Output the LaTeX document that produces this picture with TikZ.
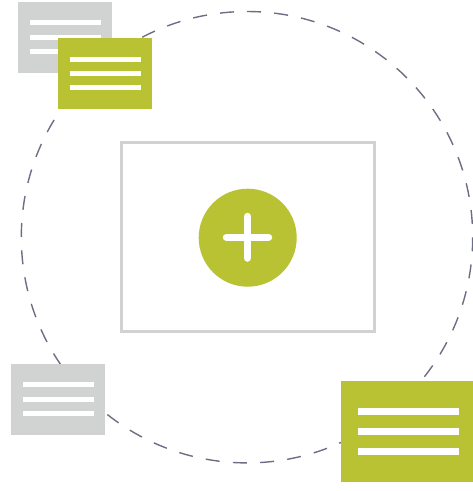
\documentclass[tikz,border=0pt]{standalone}
\definecolor{olivegreen}{HTML}{B9C232}
\definecolor{lightgrey}{HTML}{D1D3D2}
\definecolor{dashgrey}{HTML}{6F6D85}
\tikzset{
  card/.style={rectangle,inner sep=0pt,outer sep=0pt,anchor=north west},
  greycard/.style={card,fill=lightgrey,minimum width=94pt,minimum height=71pt},
  greencard/.style={card,fill=olivegreen,minimum width=94pt,minimum height=71pt},
  bigcard/.style={card,fill=olivegreen,minimum width=132pt,minimum height=101pt},
  bar/.style={fill=white},
  orbit/.style={draw=dashgrey,line width=1.4pt,dash pattern=on 14pt off 13.28pt},
  frame/.style={rectangle,draw=lightgrey,line width=2.8pt,fill=white,inner sep=0pt,outer sep=0pt,minimum width=253pt,minimum height=189pt},
  plusdisc/.style={circle,fill=olivegreen,inner sep=0pt,outer sep=0pt,minimum size=98pt},
  plusarm/.style={draw=white,line width=7.5pt,line cap=round}
}
\begin{document}
\begin{tikzpicture}[x=1pt,y=-1pt]
\useasboundingbox (0,0) rectangle (473,491);
\clip (0,0) rectangle (473,491);
\draw[orbit] (247,11.5) arc[start angle=-90,end angle=270,radius=225.7];
\node[frame] (fr) at (248,237) {};
\node[plusdisc] (pd) at (247.7,237.7) {};
\draw[plusarm] (226.5,237.3) -- (268.5,237.3);
\draw[plusarm] (247.5,216.5) -- (247.5,258);
% grey card, top left
\node[greycard] (ga) at (18,2) {};
\fill[bar] (30,20) rectangle (101,25.3);
\fill[bar] (30,35) rectangle (101,40.3);
\fill[bar] (30,49) rectangle (101,54.3);
% green card, top left
\node[greencard] (gb) at (58,38) {};
\fill[bar] (70,57) rectangle (141,62.3);
\fill[bar] (70,71) rectangle (141,76.3);
\fill[bar] (70,85) rectangle (141,90.3);
% grey card, bottom left
\node[greycard] (gc) at (11,364) {};
\fill[bar] (23,382) rectangle (94,387.3);
\fill[bar] (23,397) rectangle (94,402.3);
\fill[bar] (23,411) rectangle (94,416.3);
% large green card, bottom right
\node[bigcard] (gd) at (341,381) {};
\fill[bar] (358,408) rectangle (459,415.3);
\fill[bar] (358,428) rectangle (459,435.3);
\fill[bar] (358,448) rectangle (459,455.3);
\end{tikzpicture}
\end{document}
